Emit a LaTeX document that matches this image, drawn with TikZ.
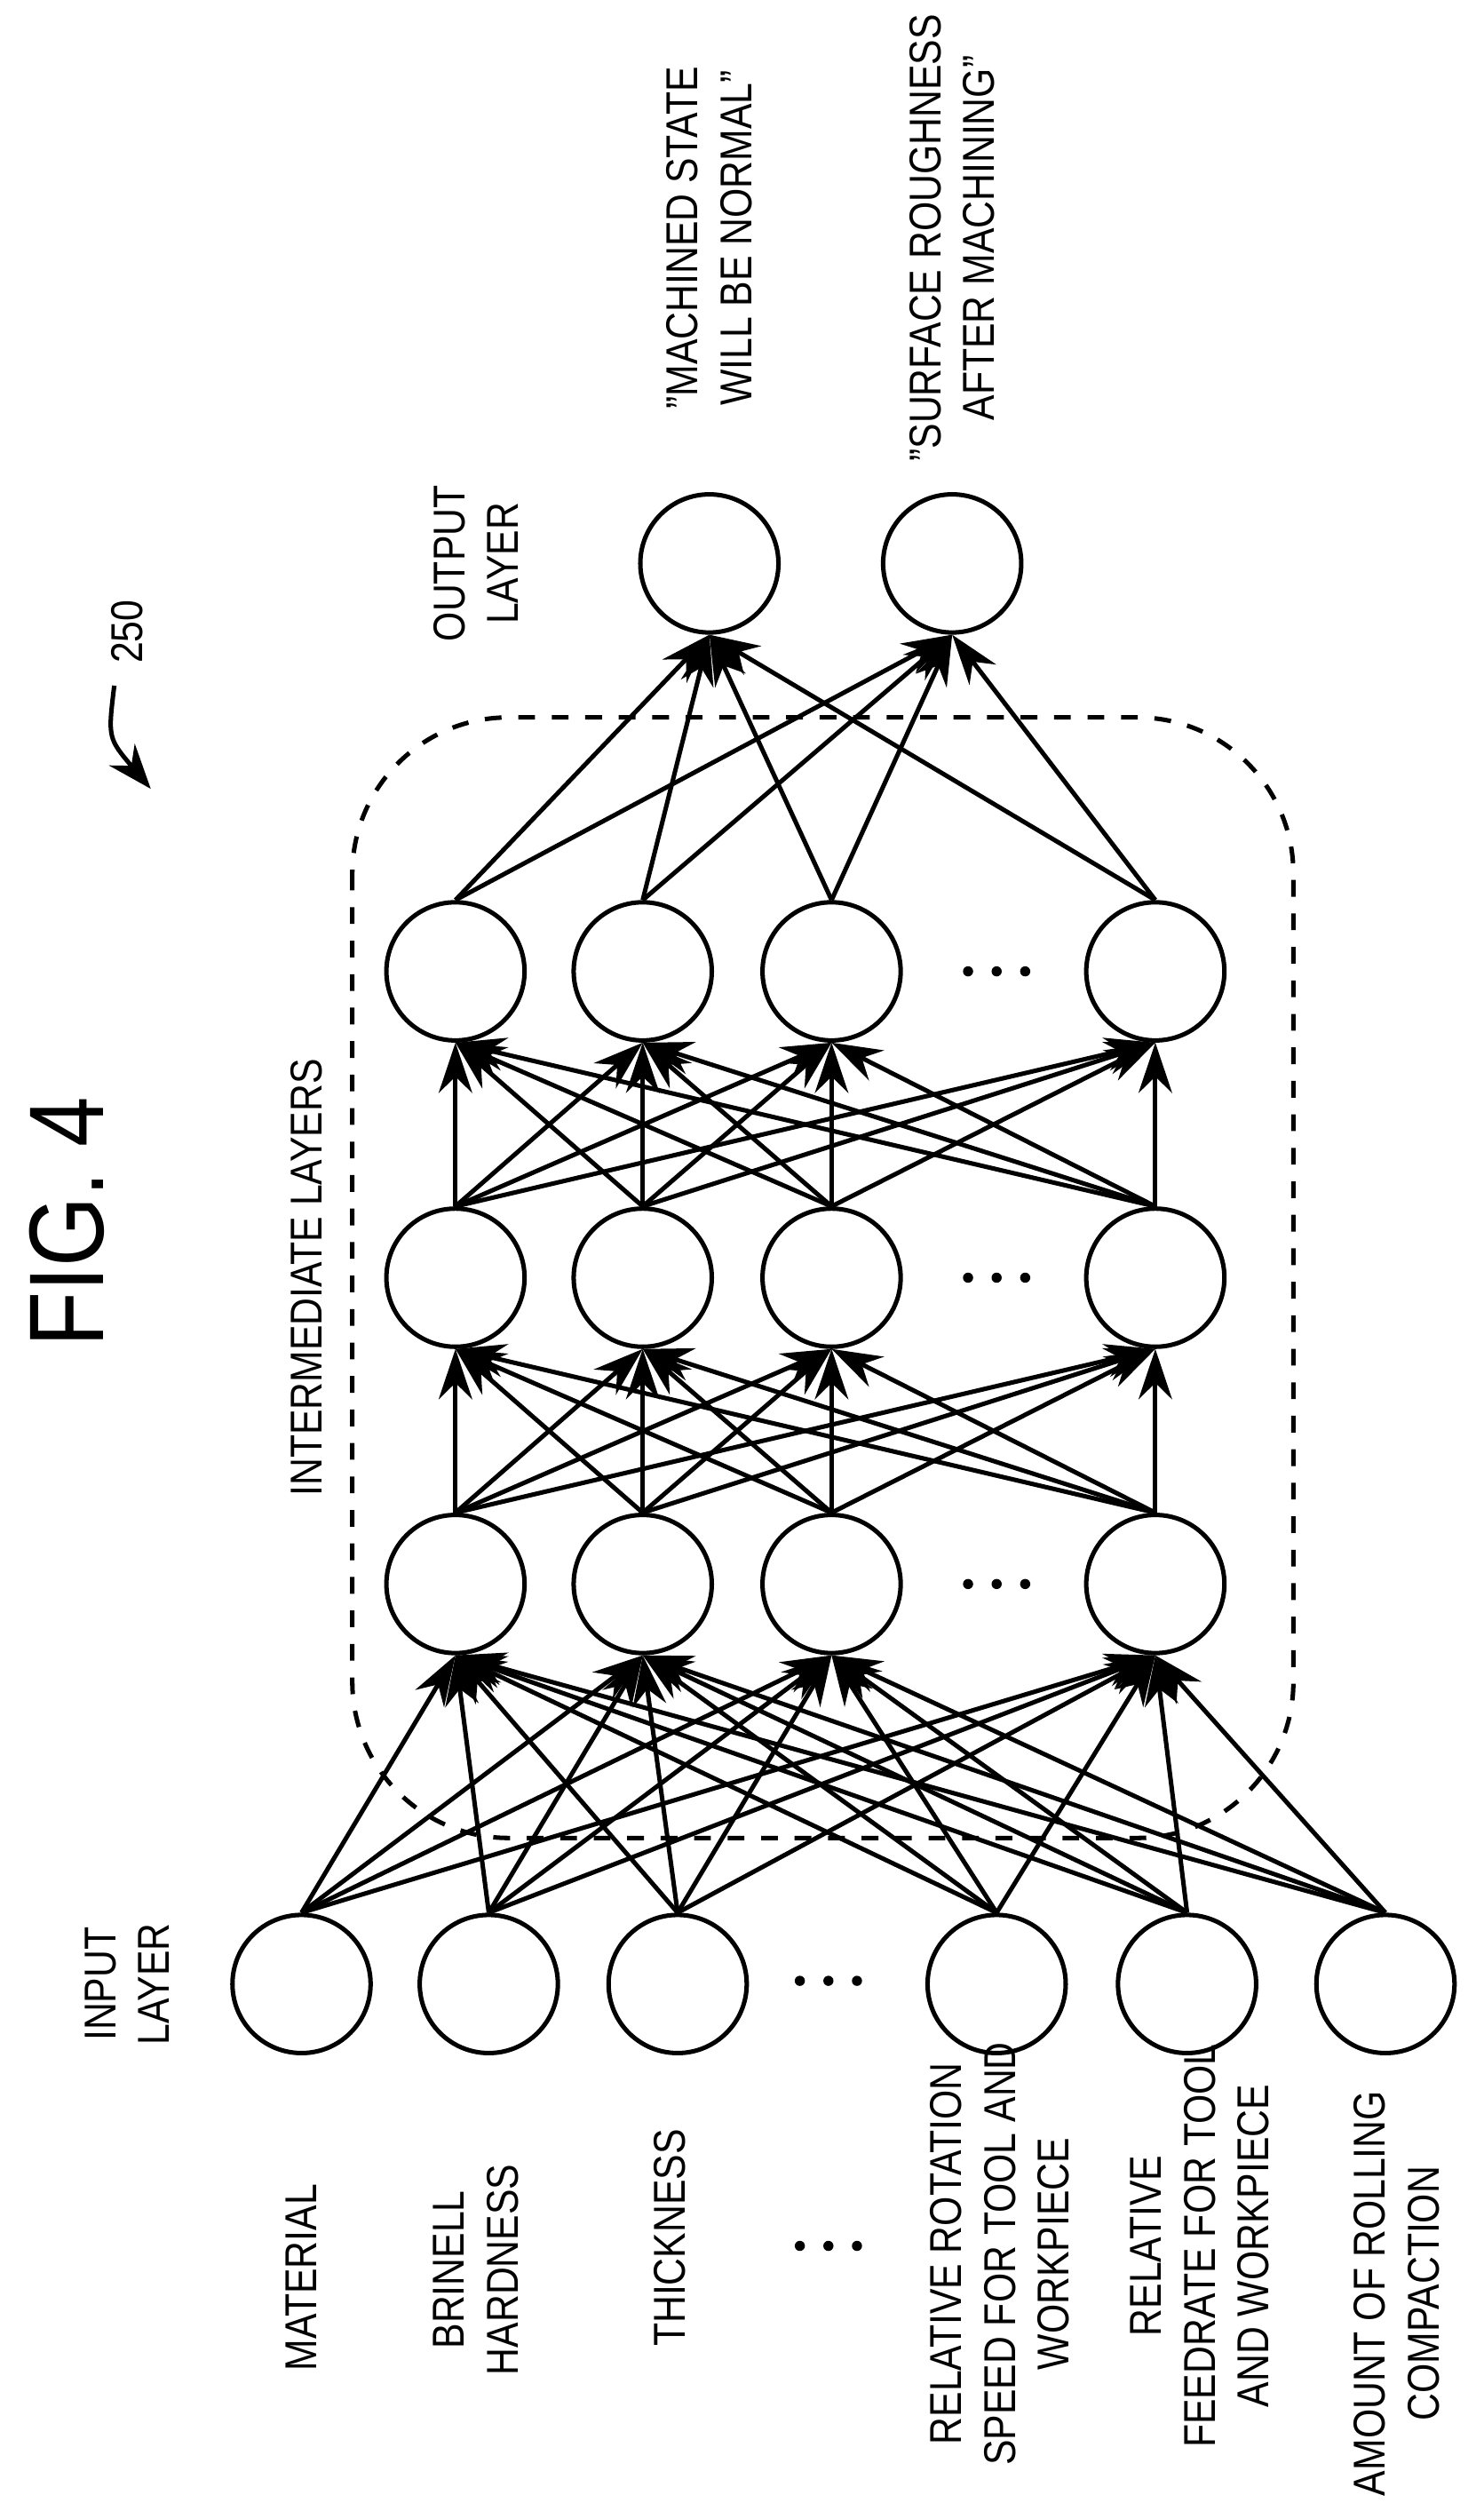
\documentclass[tikz,border=0pt]{standalone}
\usepackage{fontspec}
\setmainfont[FakeStretch=0.85]{Liberation Sans}
\usetikzlibrary{arrows.meta}

\begin{document}
\begin{tikzpicture}[x=0.01cm,y=-0.01cm]
        \tikzstyle{neuron} = [circle, draw=black, thick, minimum size=0.87cm, inner sep=0pt]
        \tikzstyle{arrow} = [thick,-{Stealth[length=9pt,width=6pt]}]
        \tikzstyle{label} = [rotate=90, align=center, font=\fontsize{8}{9.6}\selectfont]

        \useasboundingbox (0,0) rectangle (935,1577);

        % input layer
        \node (in1) [neuron] at (190,1250) {};
        \node (in2) [neuron] at (308,1250) {};
        \node (in3) [neuron] at (427,1250) {};
        \node (in4) [neuron] at (628,1250) {};
        \node (in5) [neuron] at (748,1250) {};
        \node (in6) [neuron] at (873,1250) {};
        \coordinate (indots) at (522,1248);

        % intermediate layers
        \foreach \l/\y in {1/998,2/805,3/612} {
            \node (h\l1) [neuron] at (287,\y) {};
            \node (h\l2) [neuron] at (405,\y) {};
            \node (h\l3) [neuron] at (524,\y) {};
            \node (h\l4) [neuron] at (728,\y) {};
            \coordinate (hdots\l) at (628,\y);
        }

        % output layer
        \node (out1) [neuron] at (447,355) {};
        \node (out2) [neuron] at (600,355) {};

        \draw [thick, dashed, rounded corners=28pt] (222,452) rectangle (815,1158);

        \foreach \i in {1,...,6}
            \foreach \j in {1,...,4}
                \draw [arrow] (in\i.north) -- (h1\j.south);
        \foreach \i in {1,...,4}
            \foreach \j in {1,...,4} {
                \draw [arrow] (h1\i.north) -- (h2\j.south);
                \draw [arrow] (h2\i.north) -- (h3\j.south);
            }
        \foreach \i in {1,...,4}
            \foreach \j in {1,2}
                \draw [arrow] (h3\i.north) -- (out\j.south);

        \fill (indots) ++(-18,0) circle (3.2) ++(18,0) circle (3.2) ++(18,0) circle (3.2);
        \foreach \l in {1,2,3}
            \fill (hdots\l) ++(-18,0) circle (3.2) ++(18,0) circle (3.2) ++(18,0) circle (3.2);
        \coordinate (tdots) at (522,1415);
        \fill (tdots) ++(-18,0) circle (3.2) ++(18,0) circle (3.2) ++(18,0) circle (3.2);

        % texts
        \node (fig) [rotate=90, font=\fontsize{19}{22}\selectfont] at (42,770) {FIG. 4};
        \node (ref) [label] at (80,398) {250};
        \coordinate (refend) at (95,497);
        \draw [thick,-{Stealth[length=8pt,width=6pt]}] (72,432) .. controls (68,465) .. (refend);
        \node (inter) [label] at (193,805) {INTERMEDIATE LAYERS};
        \node (inlabel) [label] at (80,1250) {INPUT\\LAYER};
        \node (outlabel) [label] at (300,355) {OUTPUT\\LAYER};
        \node (o1) [label] at (447,150) {''MACHINED STATE\\WILL BE NORMAL''};
        \node (o2) [label] at (600,150) {''SURFACE ROUGHNESS\\AFTER MACHINING''};

        \node (t1) [label] at (190,1435) {MATERIAL};
        \node (t2) [label] at (300,1430) {BRINELL\\HARDNESS};
        \node (t3) [label] at (422,1410) {THICKNESS};
        \node (t4) [label] at (630,1420) {RELATIVE ROTATION\\SPEED FOR TOOL AND\\WORKPIECE};
        \node (t5) [label] at (756,1415) {RELATIVE\\FEEDRATE FOR TOOL\\AND WORKPIECE};
        \node (t6) [label] at (880,1445) {AMOUNT OF ROLLING\\COMPACTION};
\end{tikzpicture}
\end{document}
